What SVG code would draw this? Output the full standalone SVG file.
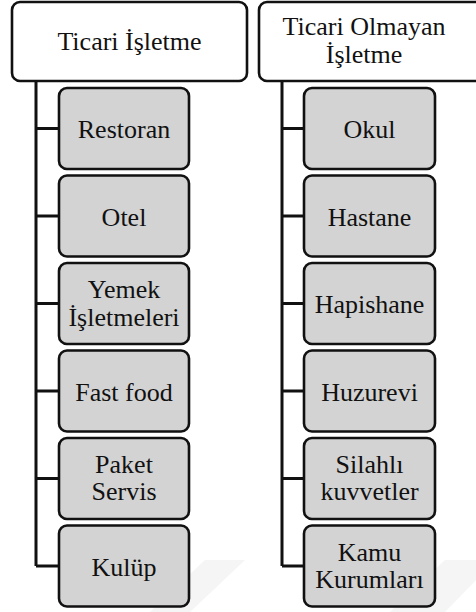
<svg xmlns="http://www.w3.org/2000/svg" width="476" height="612" viewBox="0 0 476 612">
<style>
.hdr{fill:#ffffff;stroke:#111;stroke-width:2.6}
.box{fill:#d3d3d3;stroke:#111;stroke-width:2.6}
.conn{fill:none;stroke:#111;stroke-width:3}
.lbl{font-family:"Liberation Serif","Times New Roman",serif;font-size:26px;fill:#111;text-anchor:middle}
</style>
<rect width="476" height="612" fill="#ffffff"/>
<g id="watermark" fill="#f5f5f5">
<polygon points="150,612 205,560 245,560 190,612"/>
<polygon points="390,612 445,560 476,560 476,580 445,612"/>
</g>
<g id="connectors">
<path class="conn" d="M36,81 V566 M36,128.5 H59 M36,216 H59 M36,303.5 H59 M36,391 H59 M36,478.5 H59 M36,566 H59"/>
<path class="conn" d="M282,81 V566 M282,128.5 H304 M282,216 H304 M282,303.5 H304 M282,391 H304 M282,478.5 H304 M282,566 H304"/>
</g>
<g id="ticari"><rect class="hdr" x="12" y="2" width="235" height="79" rx="8"/><text class="lbl" x="129.5" y="50">Ticari İşletme</text></g>
<g id="ticari-olmayan"><rect class="hdr" x="259" y="2" width="235" height="79" rx="8"/><text class="lbl" x="364" y="35">Ticari Olmayan</text><text class="lbl" x="364" y="63">İşletme</text></g>
<g id="restoran"><rect class="box" x="59" y="88" width="130" height="81" rx="8"/><text class="lbl" x="124" y="138">Restoran</text></g>
<g id="otel"><rect class="box" x="59" y="175.5" width="130" height="81" rx="8"/><text class="lbl" x="124" y="225.5">Otel</text></g>
<g id="yemek"><rect class="box" x="59" y="263" width="130" height="81" rx="8"/><text class="lbl" x="124" y="298">Yemek</text><text class="lbl" x="124" y="326">İşletmeleri</text></g>
<g id="fastfood"><rect class="box" x="59" y="350.5" width="130" height="81" rx="8"/><text class="lbl" x="124" y="400.5">Fast food</text></g>
<g id="paket"><rect class="box" x="59" y="438" width="130" height="81" rx="8"/><text class="lbl" x="124" y="472.5">Paket</text><text class="lbl" x="124" y="499.5">Servis</text></g>
<g id="kulup"><rect class="box" x="59" y="525.5" width="130" height="81" rx="8"/><text class="lbl" x="124" y="575.5">Kulüp</text></g>
<g id="okul"><rect class="box" x="304" y="88" width="131" height="81" rx="8"/><text class="lbl" x="369.5" y="138">Okul</text></g>
<g id="hastane"><rect class="box" x="304" y="175.5" width="131" height="81" rx="8"/><text class="lbl" x="369.5" y="225.5">Hastane</text></g>
<g id="hapishane"><rect class="box" x="304" y="263" width="131" height="81" rx="8"/><text class="lbl" x="369.5" y="312.5">Hapishane</text></g>
<g id="huzurevi"><rect class="box" x="304" y="350.5" width="131" height="81" rx="8"/><text class="lbl" x="369.5" y="400.5">Huzurevi</text></g>
<g id="silahli"><rect class="box" x="304" y="438" width="131" height="81" rx="8"/><text class="lbl" x="369.5" y="472.5">Silahlı</text><text class="lbl" x="369.5" y="499.5">kuvvetler</text></g>
<g id="kamu"><rect class="box" x="304" y="525.5" width="131" height="81" rx="8"/><text class="lbl" x="369.5" y="560.5">Kamu</text><text class="lbl" x="369.5" y="587.5">Kurumları</text></g>
</svg>
